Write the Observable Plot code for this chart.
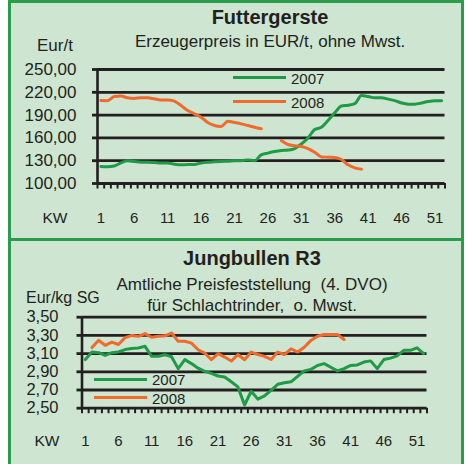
<!DOCTYPE html>
<html>
<head>
<meta charset="utf-8">
<script src="https://cdn.jsdelivr.net/npm/d3@7"></script>
<script src="https://cdn.jsdelivr.net/npm/@observablehq/plot@0.6"></script>
<style>
  html, body { margin: 0; padding: 0; background: #ffffff; }
  body { width: 466px; height: 464px; overflow: hidden; position: relative;
         font-family: "Liberation Sans", Arial, sans-serif; color: #231f20; }
  #frame { position: absolute; left: 8px; top: 0; width: 450px; height: 461px;
           border: 3px solid #2a9d4c; border-bottom: none; background: #cde5d1; }
  #frame svg { position: absolute; left: 0; overflow: visible; }
  .t { position: absolute; white-space: pre; }
  .leg { position: absolute; height: 3px; }
</style>
</head>
<body>
<div id="frame"></div>
<script>
// ---------- data ----------
const weeks = [1,2,3,4,5,6,7,8,9,10,11,12,13,14,15,16,17,18,19,20,21,22,23,24,25,26,
               27,28,29,30,31,32,33,34,35,36,37,38,39,40,41,42,43,44,45,46,47,48,49,50,51,52];
const kwLabels = [1, 6, 11, 16, 21, 26, 31, 36, 41, 46, 51];
const seriesNames = ["2007", "2008"];

// Futtergerste, EUR/t
const gersteTicks = [100, 130, 160, 190, 220, 250];
const gerste2007 = [122.4, 122, 123, 127, 130, 129, 128, 128, 127.6, 127, 127, 125.4, 124.6, 125, 125, 127,
  128, 128.5, 129, 129.4, 130, 130, 131, 130, 137.7, 140, 142, 143.4, 144, 146, 152, 160, 171, 174, 183,
  193, 202, 203, 205, 215.8, 214.5, 212.7, 212.7, 211, 209, 206, 204.4, 204.4, 206, 208, 209, 208.8];
const gerste2008 = [209.2, 209, 214.5, 215, 212.7, 212, 212.7, 212.7, 211.4, 210, 210, 208.3, 202.6, 196,
  191.7, 187.3, 180.3, 176.3, 175, 182, 180.3, 178.5, 176.3, 174, 172, null, null, 156.6, 151.3, 149.6,
  148.7, 146, 141.2, 135, 134.6, 134.2, 131.6, 124.6, 120.6, 118.9,
  null, null, null, null, null, null, null, null, null, null, null, null];

// Jungbullen R3, EUR/kg SG
const bullenTicks = [2.5, 2.7, 2.9, 3.1, 3.3, 3.5];
const bullen2007 = [3.034, 3.118, 3.11, 3.08, 3.11, 3.118, 3.144, 3.155, 3.162, 3.18, 3.07, 3.07, 3.088,
  3.065, 2.935, 3.034, 2.99, 2.94, 2.905, 2.883, 2.854, 2.843, 2.79, 2.734, 2.535, 2.686, 2.6, 2.635,
  2.697, 2.763, 2.78, 2.79, 2.85, 2.91, 2.927, 2.97, 2.99, 2.95, 2.91, 2.934, 2.97, 2.975, 3.007, 3.02,
  2.935, 3.035, 3.05, 3.075, 3.136, 3.136, 3.164, 3.1];
const bullen2008 = [null, 3.166, 3.246, 3.19, 3.227, 3.2, 3.276, 3.3, 3.29, 3.32, 3.28, 3.29, 3.295, 3.326,
  3.235, 3.235, 3.215, 3.142, 3.106, 3.033, 3.099, 3.062, 3.018, 3.09, 3.033, 3.117, 3.09, 3.07, 3.036,
  3.117, 3.09, 3.153, 3.117, 3.17, 3.245, 3.29, 3.31, 3.31, 3.31, 3.255,
  null, null, null, null, null, null, null, null, null, null, null, null];

// ---------- styling ----------
const GREEN = "#1f9a45";
const ORANGE = "#f26a2b";
const BORDER = "#2a9d4c";
const INK = "#231f20";
const FONT = '"Liberation Sans", Arial, sans-serif';

const frame = document.getElementById("frame");
// frame inner origin is page (11, 3)
const OX = 11, OY = 3;

function text(str, {x, baseline, size, bold = false, anchor = "start"}) {
  const d = document.createElement("div");
  d.className = "t";
  d.textContent = str;
  d.style.fontSize = size + "px";
  d.style.lineHeight = size + "px";
  d.style.fontWeight = bold ? "bold" : "normal";
  d.style.top = (baseline - OY - 0.8465 * size) + "px";
  if (anchor === "middle") {
    d.style.left = (x - OX - 250) + "px";
    d.style.width = "500px";
    d.style.textAlign = "center";
  } else {
    d.style.left = (x - OX) + "px";
  }
  frame.appendChild(d);
}
function legendLine(color, x1, x2, y) {
  const d = document.createElement("div");
  d.className = "leg";
  d.style.background = color;
  d.style.left = (x1 - OX) + "px";
  d.style.width = (x2 - x1) + "px";
  d.style.top = (y - OY - 1.5) + "px";
  frame.appendChild(d);
}

const boundaries = weeks.map(w => w - 0.5).concat([weeks[weeks.length - 1] + 0.5]);
const toRows = arr => weeks.map((w, i) => ({week: w, value: arr[i] == null ? NaN : arr[i]}));
const comma = d => d.toFixed(2).replace(".", ",");

function panel({ticks, s2007, s2008, curve, width, height, marginLeft, marginRight, marginTop, marginBottom,
                yPad, yFont, xPad}) {
  return Plot.plot({
    width, height, marginLeft, marginRight, marginTop, marginBottom,
    style: {background: "transparent", fontFamily: FONT, color: INK, overflow: "visible"},
    x: {domain: [boundaries[0], boundaries[boundaries.length - 1]]},
    y: {domain: [ticks[0], ticks[ticks.length - 1]]},
    marks: [
      Plot.ruleY(ticks, {stroke: INK, strokeWidth: 2.8}),
      Plot.axisY({ticks, tickSize: 5, tickPadding: yPad, tickFormat: comma, fontSize: yFont,
                  stroke: INK, strokeWidth: 2.8, label: null}),
      Plot.axisX({ticks: boundaries, tickSize: 5.5, tickFormat: () => "", stroke: INK, strokeWidth: 2,
                  label: null}),
      Plot.axisX({ticks: kwLabels, tickSize: 0, tickPadding: xPad, fontSize: 15, label: null}),
      Plot.ruleX([boundaries[0]], {stroke: INK, strokeWidth: 2.6}),
      Plot.lineY(toRows(s2007), {x: "week", y: "value", stroke: GREEN, strokeWidth: 3, curve}),
      Plot.lineY(toRows(s2008), {x: "week", y: "value", stroke: ORANGE, strokeWidth: 3, curve})
    ]
  });
}

// ---------- panel 1 ----------
const p1 = panel({ticks: gersteTicks, s2007: gerste2007, s2008: gerste2008, curve: "monotone-x",
  width: 450, height: 235, marginLeft: 86, marginRight: 16.5, marginTop: 66, marginBottom: 55,
  yPad: 16, yFont: 17, xPad: 29});
p1.style.top = "0px";
frame.appendChild(p1);

text("Futtergerste", {x: 270, baseline: 24, size: 20, bold: true, anchor: "middle"});
text("Erzeugerpreis in EUR/t, ohne Mwst.", {x: 270, baseline: 47.7, size: 17, anchor: "middle"});
text("Eur/t", {x: 37, baseline: 51.7, size: 17});
text("KW", {x: 55, baseline: 222.7, size: 15.5, anchor: "middle"});
legendLine(GREEN, 233, 286, 77.3);
text(seriesNames[0], {x: 291, baseline: 83.3, size: 15});
legendLine(ORANGE, 233, 286, 101);
text(seriesNames[1], {x: 291, baseline: 107.3, size: 15});

// divider
const div = document.createElement("div");
div.style.cssText = `position:absolute;left:0;top:${238 - OY}px;width:450px;height:3px;background:${BORDER};`;
frame.appendChild(div);

// ---------- panel 2 ----------
const p2 = panel({ticks: bullenTicks, s2007: bullen2007, s2008: bullen2008, curve: "linear",
  width: 450, height: 223, marginLeft: 70.5, marginRight: 34.5, marginTop: 75.7, marginBottom: 56.3,
  yPad: 18.5, yFont: 16.5, xPad: 27.6});
p2.style.top = (241 - OY) + "px";
frame.appendChild(p2);

text("Jungbullen R3", {x: 252, baseline: 265, size: 20, bold: true, anchor: "middle"});
text("Amtliche Preisfeststellung  (4. DVO)", {x: 252, baseline: 290, size: 17, anchor: "middle"});
text("für Schlachtrinder,  o. Mwst.", {x: 252, baseline: 311.7, size: 17, anchor: "middle"});
text("Eur/kg SG", {x: 26, baseline: 304, size: 16});
text("KW", {x: 47, baseline: 446, size: 15.5, anchor: "middle"});
legendLine(GREEN, 94, 147, 379);
text(seriesNames[0], {x: 152, baseline: 384.3, size: 15});
legendLine(ORANGE, 94, 147, 397.7);
text(seriesNames[1], {x: 152, baseline: 403.3, size: 15});
</script>
</body>
</html>
